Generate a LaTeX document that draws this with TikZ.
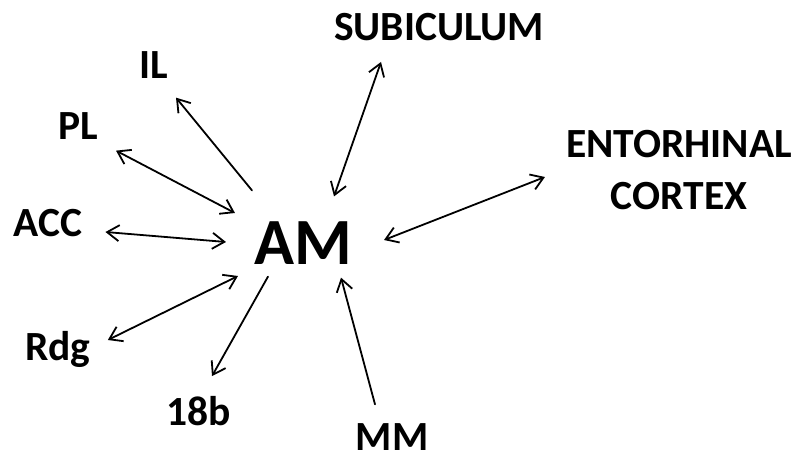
\documentclass[tikz,border=0pt]{standalone}
\usepackage{fontspec}
\setmainfont{Carlito}
\usetikzlibrary{arrows.meta}

\begin{document}
\begin{tikzpicture}[x=1pt, y=1pt,
    region/.style={font=\bfseries\fontsize{41.5}{52}\selectfont, inner sep=0pt},
    link/.style={line width=1.8pt, line cap=round, {Straight Barb[length=12pt,width=16pt]}-{Straight Barb[length=12pt,width=16pt]}},
    oneway/.style={line width=1.8pt, line cap=round, -{Straight Barb[length=12pt,width=16pt]}}]
    \useasboundingbox (0,0) rectangle (797,461);

    % Centre
    \node[inner sep=0pt, font=\bfseries\fontsize{66}{70}\selectfont] (am) at (303,218) {AM};

    % Regions
    \node[region] (sub) at (439,434) {SUBICULUM};
    \node[region, align=center] (ent) at (679,291) {ENTORHINAL\\CORTEX};
    \node[region] (il) at (154,396) {IL};
    \node[region] (pl) at (78,335) {PL};
    \node[region] (acc) at (48,238) {ACC};
    \node[region] (rdg) at (58,112) {Rdg};
    \node[region] (b18) at (199,50) {18b};
    \node[region] (mm) at (392,24) {MM};

    % Connections
    \draw[oneway] ([shift={(-51,31)}]am.north) -- ([shift={(22,-19)}]il.south);
    \draw[link] ([shift={(18,-11)}]pl.south east) -- ([shift={(-19,30)}]am.west);
    \draw[link] ([shift={(23,-9)}]acc.east) -- ([shift={(-28,1)}]am.west);
    \draw[link] ([shift={(17,9)}]rdg.east) -- ([shift={(-16,-33)}]am.west);
    \draw[oneway] ([shift={(-35,-12)}]am.south) -- ([shift={(13,20)}]b18.north);
    \draw[oneway] ([shift={(-17,19)}]mm.north) -- ([shift={(38,-13)}]am.south);
    \draw[link] ([shift={(-58,-21)}]sub.south) -- ([shift={(31,25)}]am.north);
    \draw[link] ([shift={(-21,-7)}]ent.west) -- ([shift={(32,3)}]am.east);
\end{tikzpicture}
\end{document}
